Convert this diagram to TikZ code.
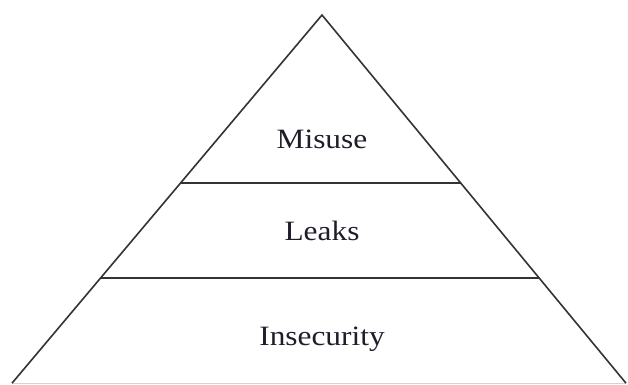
\documentclass[tikz,border=0pt]{standalone}
\usepackage{fontspec}
\setmainfont[FakeStretch=1.12]{Liberation Serif}
\usetikzlibrary{calc}
\definecolor{edgecol}{HTML}{333333}
\definecolor{basecol}{HTML}{D4D4D4}
\definecolor{textcol}{HTML}{1E1E2A}
\tikzset{
  edge/.style={draw=edgecol, line width=1.6pt},
  baseedge/.style={draw=basecol, line width=1.4pt},
  level/.style={anchor=base, text=textcol, font=\fontsize{28}{30}\selectfont, inner sep=0pt}
}
\begin{document}
\begin{tikzpicture}[x=1pt,y=1pt]
\useasboundingbox (0,0) rectangle (628,384);
\coordinate (apex) at (322,369);
\coordinate (bl) at (12,0.8);
\coordinate (br) at (626,0.8);
\coordinate (l1) at ($(apex)!0.4565!(bl)$);
\coordinate (r1) at ($(apex)!0.4565!(br)$);
\coordinate (l2) at ($(apex)!0.7147!(bl)$);
\coordinate (r2) at ($(apex)!0.7147!(br)$);
\draw[baseedge] (bl) -- (br);
\draw[edge, line join=miter] (bl) -- (apex) -- (br);
\draw[edge] (l1) -- (r1);
\draw[edge] (l2) -- (r2);
\node[level] (misuse) at (322,236) {Misuse};
\node[level] (leaks) at (322,144) {Leaks};
\node[level] (insec) at (322,39) {Insecurity};
\end{tikzpicture}
\end{document}
